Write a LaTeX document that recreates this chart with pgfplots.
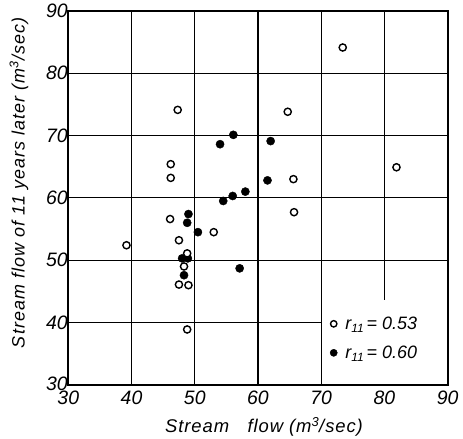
\documentclass[border=0pt]{standalone}
\usepackage{fontspec}
\setmainfont{Liberation Sans}
\usepackage{pgfplots}
\pgfplotsset{compat=1.18}
\begin{document}
\begin{tikzpicture}
\begin{axis}[
  scale only axis, width=379.4bp, height=374.3bp,
  xmin=30, xmax=90, ymin=30, ymax=90,
  xtick={30,40,...,90}, ytick={30,40,...,90},
  yticklabels={\raisebox{3bp}{30},40,50,60,70,80,90},
  grid=major, major grid style={black, line width=1.1bp},
  axis line style={line width=1.8bp},
  tick style={draw=none},
  /pgf/number format/assume math mode=true,
  ticklabel style={font=\fontsize{19.5}{19.5}\selectfont\itshape},
  xticklabel style={yshift=-2bp},
  yticklabel style={xshift=3bp},
  xlabel={Stream\quad flow (m\textsuperscript{3}/sec)},
  ylabel={Stream flow of 11 years later (m\textsuperscript{3}/sec)},
  xlabel style={font=\fontsize{18.5}{18.5}\selectfont\itshape\addfontfeatures{LetterSpace=5}, yshift=-6bp, xshift=6bp},
  ylabel style={font=\fontsize{18}{18}\selectfont\itshape\addfontfeatures{LetterSpace=6}, yshift=11bp, xshift=15bp},
  legend style={at={(axis cs:70.9,41.6)}, anchor=north west, draw=none, fill=none,
    row sep=11bp, font=\fontsize{18}{18}\selectfont\itshape},
  legend cell align=left,
]
\addlegendimage{only marks, mark=*, mark size=3.2bp, mark options={fill=white, draw=black, line width=1.4bp}}
\addlegendentry{\hspace*{6bp}r\raisebox{-0.35ex}{\fontsize{12}{12}\selectfont 11}\,= 0.53}
\addlegendimage{only marks, mark=*, mark size=3.6bp, mark options={fill=black, draw=black}}
\addlegendentry{\hspace*{6bp}r\raisebox{-0.35ex}{\fontsize{12}{12}\selectfont 11}\,= 0.60}

\fill[white] (axis cs:70.18,30.1) rectangle (axis cs:89.9,43.6);

\addplot[forget plot, only marks, mark=*, mark size=4.1bp, mark options={fill=black, draw=black}] coordinates {
(56.1,70.1) (54.0,68.6) (62.0,69.1) (61.5,62.8) (58.0,61.0) (56.0,60.3)
(54.5,59.5) (49.0,57.4) (48.8,56.0) (50.5,54.5) (57.1,48.7) (48.0,50.3)
(48.9,50.3) (48.3,47.6)
};
\addplot[forget plot, only marks, mark=*, mark size=3.6bp, mark options={fill=white, draw=black, line width=1.4bp}] coordinates {
(73.4,84.1) (47.3,74.1) (64.7,73.8) (46.2,65.4) (46.2,63.2) (81.9,64.9)
(65.6,63.0) (65.7,57.7) (46.1,56.6) (53.0,54.5) (39.2,52.4) (47.5,53.2)
(48.8,51.1) (48.3,49.0) (47.5,46.1) (49.0,46.0) (48.8,38.9)
};
\end{axis}
\pgfresetboundingbox
\path (current axis.south west) ++(-68.3bp,-54bp) coordinate (bbsw);
\path (current axis.north east) ++(15.3bp,10.7bp) coordinate (bbne);
\path[use as bounding box] (bbsw) rectangle (bbne);
\end{tikzpicture}
\end{document}
